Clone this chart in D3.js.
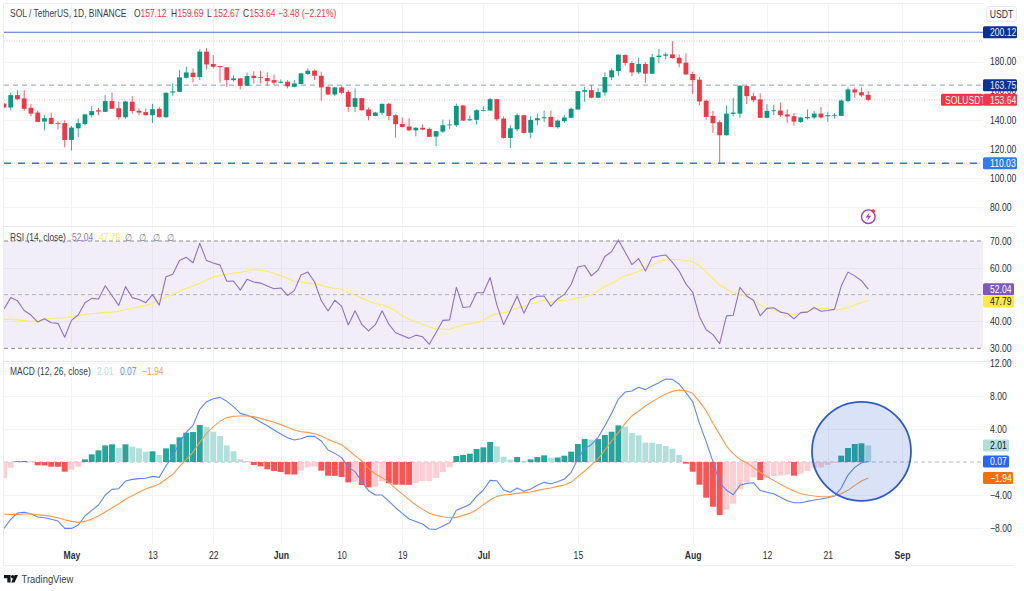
<!DOCTYPE html>
<html>
<head>
<meta charset="utf-8">
<script src="https://cdn.jsdelivr.net/npm/d3@7"></script>
<style>
  html, body { margin: 0; padding: 0; background: #fff; }
  text { font-family: "Liberation Sans", sans-serif; }
</style>
</head>
<body>
<svg id="chart" width="1024" height="591"></svg>
<script>
// daily candles, Apr 21 to Aug 27
var firstDay = new Date(Date.UTC(2024, 3, 21));

var open = [151.1,148.4,156.9,154.6,148.2,144.9,138.7,141.3,137.6,137.6,126.1,134.1,137.1,143.1,146.5,145.4,152.8,147.9,141.7,152.3,146.1,145.2,143.1,147.5,141.7,158.7,159.2,168.8,172.3,169.3,186.8,178.3,176.9,176.0,167.2,168.4,163.3,170.2,169.1,168.6,167.2,165.4,166.1,162.6,164.5,171.4,173.7,170.2,162.6,157.3,162.2,
  159.0,148.8,154.8,147.0,142.6,144.7,150.9,143.1,137.1,135.3,132.7,134.4,133.7,128.4,131.8,136.2,136.2,149.8,139.6,139.9,146.1,146.3,154.1,140.8,127.5,133.4,143.1,131.1,139.6,141.0,141.9,134.8,139.0,141.3,147.0,159.2,160.3,155.1,158.7,169.1,173.4,184.5,179.0,172.5,178.3,171.6,183.1,184.0,184.9,182.6,
  179.2,171.4,167.5,153.0,142.6,138.3,129.3,144.0,144.2,163.1,156.2,153.9,141.3,145.9,146.3,143.6,142.4,138.5,141.0,141.5,144.2,142.4,142.9,142.6,152.8,160.8,158.9,157.12];
var high = [151.6,158.7,160.3,160.3,150.7,146.1,143.1,144.9,139.0,139.6,135.7,140.8,144.2,149.3,148.2,156.9,158.7,152.3,153.0,156.2,147.7,147.7,150.9,148.8,158.7,164.9,174.1,176.4,175.3,188.4,189.1,184.5,176.9,176.0,170.4,168.8,172.5,173.4,173.7,172.5,170.9,167.7,167.2,167.2,172.3,175.3,174.6,173.0,163.1,162.6,163.1,
  160.3,161.5,155.0,148.4,145.4,151.1,151.6,143.8,141.5,141.0,135.0,136.7,134.6,132.3,140.1,140.1,151.1,150.2,142.9,147.2,149.3,155.0,154.4,142.4,136.2,144.2,143.3,142.4,144.2,146.1,146.3,140.1,143.3,148.4,159.9,162.6,163.8,161.7,172.5,175.3,184.9,184.9,180.3,182.6,179.6,185.2,188.6,186.3,194.1,184.9,
  185.6,173.0,169.3,153.9,146.1,139.6,149.8,155.0,163.75,163.6,158.5,158.0,150.7,150.2,151.8,147.0,144.7,141.9,147.0,145.9,148.6,145.4,144.7,153.9,162.2,162.2,162.2,159.69];
var low = [147.9,146.5,153.4,145.9,142.4,138.5,132.7,136.9,133.2,121.0,118.7,127.9,136.0,141.5,143.1,145.4,147.5,140.1,140.6,144.2,143.1,142.9,137.8,141.5,141.3,156.4,159.2,168.4,165.6,167.2,174.6,175.3,165.4,162.6,166.1,160.8,163.1,164.9,164.9,163.3,163.8,164.9,161.5,162.2,164.5,170.7,167.2,153.0,156.9,156.2,157.6,
  145.4,145.4,145.9,139.6,142.4,143.1,139.6,127.7,134.6,132.1,128.6,132.7,128.2,121.7,130.9,133.7,135.0,139.2,139.2,136.7,145.9,146.1,139.2,127.0,120.6,132.1,130.7,127.2,136.2,138.5,134.8,133.9,137.8,141.0,146.8,152.3,154.6,154.8,156.4,167.2,170.2,177.1,170.0,171.4,165.4,171.4,178.7,181.5,181.9,176.0,
  170.9,157.6,150.0,140.1,130.9,110.03,129.1,142.2,141.3,150.7,152.1,141.3,141.0,143.1,141.9,137.8,136.0,137.8,140.1,140.3,140.8,138.5,140.8,142.6,152.1,155.1,155.7,152.67];
var close = [148.4,156.9,154.1,147.5,144.2,138.5,141.0,137.1,137.1,126.1,134.6,137.6,143.6,145.9,145.6,152.8,147.5,141.7,152.5,145.9,144.9,143.1,147.2,141.7,158.5,159.4,169.1,172.5,169.3,186.8,178.0,176.4,176.2,167.2,168.4,163.3,170.0,168.6,168.6,166.5,165.4,166.1,162.9,164.9,171.8,173.7,170.2,162.2,157.3,162.2,158.5,
  148.8,154.8,146.5,142.6,144.9,150.9,142.6,136.9,135.0,132.7,134.4,133.2,128.2,132.1,136.2,136.7,149.5,139.4,140.3,146.5,146.5,154.1,140.3,127.5,134.1,143.1,130.9,139.9,141.0,141.7,135.0,139.4,141.5,147.5,159.6,160.3,155.1,159.0,169.3,173.9,184.7,179.0,172.5,178.3,171.6,182.9,184.0,184.9,182.4,178.7,
  171.1,167.2,152.5,141.9,137.6,129.3,144.2,144.9,163.3,156.2,153.4,141.3,146.1,146.5,143.1,142.2,138.7,141.5,141.9,144.2,141.5,143.1,143.3,153.2,160.8,158.7,156.7,153.64];

var rsi = [44.6,48.9,47.7,44.1,42.4,39.8,41.0,39.5,39.3,34.1,40.4,42.4,47.0,48.6,48.4,53.3,49.6,46.0,53.0,48.9,48.2,47.0,50.0,46.1,56.7,57.6,62.7,63.9,61.9,69.1,62.7,61.8,61.0,55.0,55.1,51.7,55.7,54.7,54.3,53.2,52.2,52.5,49.7,51.5,57.3,58.4,54.8,47.7,43.9,47.9,45.7,
  38.7,44.0,38.9,36.5,38.8,44.0,39.0,35.8,34.8,33.7,34.9,34.3,31.5,35.9,40.4,40.6,52.7,45.2,45.5,50.7,50.7,56.4,46.1,38.8,44.0,49.5,43.1,48.2,49.4,49.5,45.7,48.4,50.1,53.8,60.3,60.9,57.0,59.2,64.2,66.1,70.4,65.8,61.2,63.4,58.8,63.9,64.4,64.8,62.0,58.8,
  54.0,50.9,41.8,36.9,35.1,31.7,42.1,42.3,52.7,49.5,47.9,42.1,44.9,45.1,43.5,43.0,41.0,43.3,43.5,45.2,43.8,44.1,44.5,53.2,58.4,57.0,55.2,52.04];
var rsiMa = [40.8,40.8,40.6,40.3,40.0,40.3,40.9,41.1,41.3,41.4,41.8,42.3,42.6,42.9,43.1,43.4,43.5,43.8,44.4,44.9,45.5,46.0,46.7,47.9,49.1,50.1,51.3,52.3,53.3,54.3,55.4,56.6,57.1,57.6,58.1,58.3,58.8,59.3,59.2,58.7,57.9,57.1,56.1,55.0,54.7,54.3,54.1,53.5,52.8,52.3,52.0,
  50.7,49.9,48.7,47.6,46.6,46.2,45.4,43.9,42.1,40.8,39.9,39.0,37.9,37.2,37.2,37.0,38.0,38.7,39.2,39.5,40.4,42.0,42.9,43.3,43.8,45.0,45.7,46.6,47.2,47.9,47.2,47.7,47.9,48.1,48.9,49.1,49.9,51.5,53.1,54.2,55.8,57.0,57.8,58.7,59.7,61.0,62.3,62.9,63.2,63.0,
  62.7,62.3,60.8,58.5,56.1,53.6,52.1,50.7,50.2,49.2,48.0,46.1,45.0,44.1,43.4,43.0,42.6,43.3,43.8,44.6,44.8,44.8,44.4,44.5,45.2,46.2,47.1,47.79];

var macdHist = [-1.94,-0.69,0.10,0.12,0.08,-0.40,-0.42,-0.57,-0.58,-1.17,-0.93,-0.57,0.32,0.93,1.42,2.02,2.15,1.70,2.15,1.86,1.66,1.26,1.30,0.85,1.66,2.15,3.00,3.56,3.64,4.49,4.25,3.68,3.16,2.02,1.30,0.32,0.12,-0.36,-0.53,-0.89,-1.09,-1.21,-1.50,-1.52,-1.05,-0.65,-0.57,-1.05,-1.66,-1.68,-1.82,
  -2.47,-2.39,-2.79,-3.08,-3.00,-2.35,-2.59,-2.75,-2.76,-2.77,-2.55,-2.31,-2.30,-1.94,-1.21,-0.65,0.73,0.85,1.01,1.58,1.78,2.43,1.90,0.65,0.28,0.61,0.16,0.32,0.61,0.81,0.53,0.55,0.77,1.26,2.19,2.79,2.72,2.78,3.28,3.68,4.45,4.29,3.52,3.24,2.35,2.34,2.19,1.94,1.62,0.85,
  -0.20,-1.17,-2.75,-4.33,-5.43,-6.44,-5.79,-5.06,-3.32,-2.43,-1.86,-2.19,-1.94,-1.70,-1.62,-1.54,-1.66,-1.42,-1.09,-0.73,-0.65,-0.36,-0.12,0.77,1.70,2.19,2.27,2.01];
var macdLine = [-8.06,-6.96,-6.19,-6.11,-6.28,-6.68,-6.76,-6.96,-7.17,-8.06,-8.06,-7.65,-6.56,-5.87,-5.22,-4.01,-3.32,-3.24,-2.31,-2.11,-2.02,-1.98,-1.74,-1.86,-0.45,0.65,2.39,3.60,4.45,6.40,7.33,7.69,7.85,7.37,6.72,5.91,5.67,5.34,4.86,4.41,3.89,3.40,2.96,2.67,2.83,3.12,3.12,2.55,1.46,1.05,0.53,
  -0.65,-1.17,-2.39,-3.48,-4.01,-4.01,-4.74,-5.55,-6.23,-6.92,-7.21,-7.53,-8.14,-8.18,-7.77,-7.37,-5.87,-5.51,-5.14,-4.17,-3.40,-2.23,-2.27,-3.40,-3.68,-3.16,-3.56,-3.28,-2.83,-2.47,-2.63,-2.39,-2.06,-1.25,0.41,1.66,2.11,3.00,4.41,5.91,7.65,8.50,8.62,9.07,8.79,9.23,9.64,10.08,10.04,9.47,
  8.42,7.33,4.70,2.47,0.04,-2.51,-3.40,-3.97,-2.83,-2.59,-2.51,-3.44,-3.68,-3.85,-4.29,-4.70,-4.94,-4.94,-4.78,-4.62,-4.49,-4.33,-4.13,-3.16,-1.58,-0.65,-0.08,0.07];
var signalLine = [-6.32,-6.36,-6.36,-6.32,-6.32,-6.40,-6.48,-6.60,-6.76,-7.00,-7.21,-7.33,-7.21,-6.92,-6.56,-6.07,-5.59,-5.06,-4.53,-4.09,-3.68,-3.28,-2.99,-2.67,-2.10,-1.50,-0.57,0.28,1.21,2.39,3.44,4.29,4.94,5.39,5.55,5.59,5.59,5.51,5.30,5.06,4.82,4.54,4.21,3.89,3.68,3.60,3.44,3.16,2.75,2.39,2.11,
  1.46,0.77,0.12,-0.77,-1.46,-1.90,-2.47,-3.20,-3.89,-4.57,-5.22,-5.75,-6.23,-6.48,-6.64,-6.76,-6.72,-6.48,-6.23,-5.79,-5.18,-4.62,-4.17,-4.01,-3.93,-3.81,-3.72,-3.64,-3.44,-3.28,-3.16,-2.96,-2.79,-2.47,-1.78,-1.09,-0.36,0.41,1.46,2.55,3.56,4.70,5.59,6.20,6.80,7.33,7.82,8.26,8.58,8.75,
  8.66,8.34,7.33,6.24,4.70,3.36,1.94,1.01,0.32,-0.08,-0.69,-1.25,-1.78,-2.23,-2.71,-3.12,-3.52,-3.85,-4.01,-4.13,-4.21,-4.21,-4.09,-3.85,-3.44,-2.84,-2.31,-1.94];

// tick labels
var monthTicks = [new Date(Date.UTC(2024,4,1)), new Date(Date.UTC(2024,5,1)), new Date(Date.UTC(2024,6,1)), new Date(Date.UTC(2024,7,1)), new Date(Date.UTC(2024,8,1))];
var dayTicks = [new Date(Date.UTC(2024,4,13)), new Date(Date.UTC(2024,4,22)), new Date(Date.UTC(2024,5,10)), new Date(Date.UTC(2024,5,19)), new Date(Date.UTC(2024,6,15)), new Date(Date.UTC(2024,7,12)), new Date(Date.UTC(2024,7,21))];
var priceTicks = [180, 160, 140, 120, 100, 80];
var rsiTicks = [70, 60, 40, 30];
var macdTicks = [12, 8, 4, -4, -8];

// horizontal levels on the price pane
var lastPrice = 153.64, levelTop = 200.12, levelMid = 163.75, levelLow = 110.03, highDotted = 194.1;
var headerValues = [["O", "157.12", 134], ["H", "159.69", 171], ["L", "152.67", 207], ["C", "153.64", 243]];

var red = "#f23645", green = "#089981";
var font = 10.5;

var svg = d3.select("#chart");
var dates = open.map((d, i) => d3.utcDay.offset(firstDay, i));

// set the scales
var x = d3.scaleUtc().domain([firstDay, monthTicks[4]]).range([3.95, 902]);
var yPrice = d3.scaleLinear().domain([80, 180]).range([207, 61.5]);
var yRsi = d3.scaleLinear().domain([30, 70]).range([348.3, 241]);
var yMacd = d3.scaleLinear().domain([-8, 12]).range([527.9, 363.2]);

var left = 4, right = 983;

// frame and pane separators
var frame = svg.append("g").attr("stroke", "#eceef3").attr("fill", "none");
frame.append("path").attr("d", "M3.5,565.5V3.5H984");
frame.append("path").attr("d", "M3.5,565.5H1014");
frame.append("path").attr("d", "M3.5,226.5H1014").attr("stroke", "#e6e8ef");
frame.append("path").attr("d", "M3.5,361.5H1014").attr("stroke", "#e6e8ef");

// grid
var grid = svg.append("g").attr("stroke", "#f3f4f8").attr("fill", "none");
var panes = [[4, 226], [227, 361], [362, 544]];
monthTicks.concat(dayTicks).forEach(t => {
    panes.forEach(p => {
        grid.append("line").attr("x1", Math.round(x(t)) + 0.5).attr("x2", Math.round(x(t)) + 0.5)
            .attr("y1", p[0]).attr("y2", p[1]);
    });
});
function hgrid(ticks, scale){
    ticks.forEach(t => {
        grid.append("line").attr("x1", left).attr("x2", right)
            .attr("y1", Math.round(scale(t)) + 0.5).attr("y2", Math.round(scale(t)) + 0.5);
    });
}
hgrid(priceTicks, yPrice);
hgrid([60, 40], yRsi);
hgrid(macdTicks, yMacd);

// clip marks to the plotting width
svg.append("clipPath").attr("id", "plot").append("rect")
    .attr("x", left).attr("y", 0).attr("width", right - left).attr("height", 591);

// price levels
function level(scale, v, color, dash, w){
    svg.append("line").attr("x1", left).attr("x2", right)
        .attr("y1", scale(v)).attr("y2", scale(v))
        .attr("stroke", color).attr("stroke-width", w || 1)
        .attr("stroke-dasharray", dash);
}
level(yPrice, highDotted, "#c9ccd3", "1 1.5");
level(yPrice, levelLow, "#c9ccd3", "1 1.5");
level(yPrice, lastPrice, "#f9b7bd", "1 1.5");
level(yPrice, levelTop, "#4a6fc0", null, 1.2);
level(yPrice, levelMid, "#8f9cc8", "5 4");
level(yPrice, levelLow, "#3a75e0", "7 7", 1.4);

// candles
var candles = svg.append("g").attr("clip-path", "url(#plot)")
    .selectAll("g").data(dates).enter().append("g")
    .attr("fill", (d, i) => close[i] >= open[i] ? green : red)
    .attr("stroke", (d, i) => close[i] >= open[i] ? green : red);
candles.append("line")
    .attr("x1", d => x(d)).attr("x2", d => x(d))
    .attr("y1", (d, i) => yPrice(high[i])).attr("y2", (d, i) => yPrice(low[i]))
    .attr("stroke-width", 0.8);
candles.append("rect")
    .attr("x", d => x(d) - 2.4).attr("width", 4.8)
    .attr("y", (d, i) => yPrice(Math.max(open[i], close[i])))
    .attr("height", (d, i) => Math.max(0.8, Math.abs(yPrice(open[i]) - yPrice(close[i]))))
    .attr("stroke", "none");

// RSI pane
svg.append("rect").attr("x", left).attr("width", right - left)
    .attr("y", yRsi(70)).attr("height", yRsi(30) - yRsi(70))
    .attr("fill", "#7e57c2").attr("fill-opacity", 0.1);
level(yRsi, 70, "#8a8d96", "4 3");
level(yRsi, 50, "#b0b2ba", "4 3");
level(yRsi, 30, "#8a8d96", "4 3");

function drawLine(values, scale, color, w){
    svg.append("path").datum(values).attr("clip-path", "url(#plot)")
        .attr("fill", "none").attr("stroke", color).attr("stroke-width", w)
        .attr("stroke-linejoin", "round")
        .attr("d", d3.line().x((d, i) => x(dates[i])).y(d => scale(d)));
}
drawLine(rsiMa, yRsi, "#fdea66", 1.1);
drawLine(rsi, yRsi, "#8f6fd0", 1.1);

// MACD pane
svg.append("line").attr("x1", left).attr("x2", right)
    .attr("y1", yMacd(0)).attr("y2", yMacd(0))
    .attr("stroke", "#b8bbc3").attr("stroke-dasharray", "4 3");

function histColor(d, i){
    var prev = i > 0 ? macdHist[i - 1] : null;
    if (d >= 0) return d > prev ? "#26a69a" : "#b2dfdb";
    return prev !== null && d < prev ? "#ff5252" : "#ffcdd2";
}
svg.append("g").attr("clip-path", "url(#plot)")
    .selectAll("rect").data(macdHist).enter().append("rect")
    .attr("x", (d, i) => x(dates[i]) - 2.95).attr("width", 5.9)
    .attr("y", d => yMacd(Math.max(d, 0)))
    .attr("height", d => Math.abs(yMacd(d) - yMacd(0)))
    .attr("fill", histColor);

drawLine(macdLine, yMacd, "#5f86f7", 1.1);
drawLine(signalLine, yMacd, "#ff9a4d", 1.1);

// axes
function rightAxis(scale, ticks){
    var g = svg.append("g").attr("transform", "translate(" + 988 + ",0)")
        .call(d3.axisRight(scale).tickValues(ticks).tickSize(0).tickPadding(2).tickFormat(d3.format(".2f")));
    g.select(".domain").remove();
    g.selectAll("text").attr("font-size", font).attr("font-family", null).attr("fill", "#2a2e39");
}
rightAxis(yPrice, priceTicks);
rightAxis(yRsi, rsiTicks);
rightAxis(yMacd, macdTicks);

function bottomAxis(ticks, bold){
    var g = svg.append("g").attr("transform", "translate(0,552)")
        .call(d3.axisBottom(x).tickValues(ticks).tickSize(0).tickPadding(0)
            .tickFormat(d => bold ? d3.utcFormat("%b")(d) : d3.utcFormat("%-d")(d)));
    g.select(".domain").remove();
    g.selectAll("text").attr("font-size", font).attr("font-family", null)
        .attr("font-weight", bold ? 700 : 400).attr("fill", "#2a2e39");
}
bottomAxis(monthTicks, true);
bottomAxis(dayTicks, false);

// coloured boxes on the price scale
function tag(y, label, bg, fg, x0, x1, anchorX){
    svg.append("rect").attr("x", x0).attr("width", x1 - x0).attr("y", y - 6).attr("height", 12)
        .attr("rx", 1.5).attr("fill", bg);
    svg.append("text").attr("x", anchorX || x0 + 7).attr("y", y).attr("dy", "0.35em")
        .attr("font-size", font).attr("fill", fg).text(label);
}
tag(yPrice(levelTop), "200.12", "#0c3299", "#e8ecf8", 983, 1017);
tag(yPrice(levelMid), "163.75", "#0c3299", "#e8ecf8", 983, 1017);
tag(yPrice(levelLow), "110.03", "#2e7bf6", "#ffffff", 983, 1017);
tag(yPrice(lastPrice), "SOLUSDT", red, "#ffffff", 941, 983, 945);
tag(yPrice(lastPrice), "153.64", red, "#ffffff", 983, 1017);
tag(yRsi(52.04), "52.04", "#7e57c2", "#ffffff", 983, 1014);
tag(yRsi(47.79) + 1, "47.79", "#ffeb3b", "#131722", 983, 1014);
tag(yMacd(2.01), "2.01", "#b2dfdb", "#131722", 983, 1009);
tag(yMacd(0.07), "0.07", "#2962ff", "#ffffff", 983, 1009);
tag(yMacd(-1.94), "\u22121.94", "#ff6d00", "#ffffff", 983, 1013, 990);

// USDT button
svg.append("rect").attr("x", 986.5).attr("y", 6.5).attr("width", 30).attr("height", 15).attr("rx", 3)
    .attr("fill", "#fff").attr("stroke", "#e6e8ef");
svg.append("text").attr("x", 1001.5).attr("y", 14).attr("dy", "0.35em").attr("text-anchor", "middle")
    .attr("font-size", font).attr("fill", "#2a2e39").text("USDT");

// header
function label(xp, yp, txt, color, size){
    return svg.append("text").attr("x", xp).attr("y", yp).attr("dy", "0.35em")
        .attr("font-size", size || 10.3).attr("fill", color).text(txt);
}
label(10, 13, "SOL / TetherUS, 1D, BINANCE", "#3a3e4a");
headerValues.forEach(h => {
    label(h[2], 13, h[0], "#3a3e4a");
    label(h[2] + 6.5, 13, h[1], red);
});
label(278, 13, "\u22123.48 (\u22122.21%)", red);

// legends
label(10, 237.7, "RSI (14, close)", "#3a3e4a");
label(72, 237.7, "52.04", "#8f6fd0");
label(99, 237.7, "47.79", "#fdea66");
[125, 139, 153, 167].forEach(p => label(p, 237.7, "\u2205", "#7a7d86"));
label(10, 371.7, "MACD (12, 26, close)", "#3a3e4a");
label(97, 371.7, "2.01", "#b2dfdb");
label(120, 371.7, "0.07", "#5f86f7");
label(142, 371.7, "\u22121.94", "#ff9a4d");

// circle drawn over the crossover
svg.append("circle")
    .attr("cx", x(new Date(Date.UTC(2024, 7, 26)))).attr("cy", yMacd(1.3)).attr("r", 49.5)
    .attr("fill", "#2f5fd0").attr("fill-opacity", 0.18)
    .attr("stroke", "#2f5bd0").attr("stroke-width", 1.8);

// lightning badge
svg.append("circle").attr("cx", 868.3).attr("cy", 216.7).attr("r", 6.8)
    .attr("fill", "none").attr("stroke", "#9c3fc8").attr("stroke-width", 1.4);
svg.append("path").attr("d", "M869.6,212.4L865.6,217.6H868.4L867,221L871.2,215.8H868.4Z").attr("fill", "#9c3fc8");
svg.append("circle").attr("cx", 873.3).attr("cy", 211).attr("r", 1.8).attr("fill", "#f23645");

// TradingView mark
svg.append("path").attr("d", "M4,575H10.6V582.6H7.3V578.3H4Z").attr("fill", "#131722");
svg.append("circle").attr("cx", 12.6).attr("cy", 576.8).attr("r", 1.7).attr("fill", "#131722");
svg.append("path").attr("d", "M14.6,575H18L14.6,582.6H11.2Z").attr("fill", "#131722");
label(21.5, 579, "TradingView", "#3a3e4a", 11.5);

// the reference type is narrower than any installed face, so squeeze every label
svg.selectAll("text").each(function(){
    this.setAttribute("textLength", this.getComputedTextLength() * 0.82);
    this.setAttribute("lengthAdjust", "spacingAndGlyphs");
});
</script>
</body>
</html>
